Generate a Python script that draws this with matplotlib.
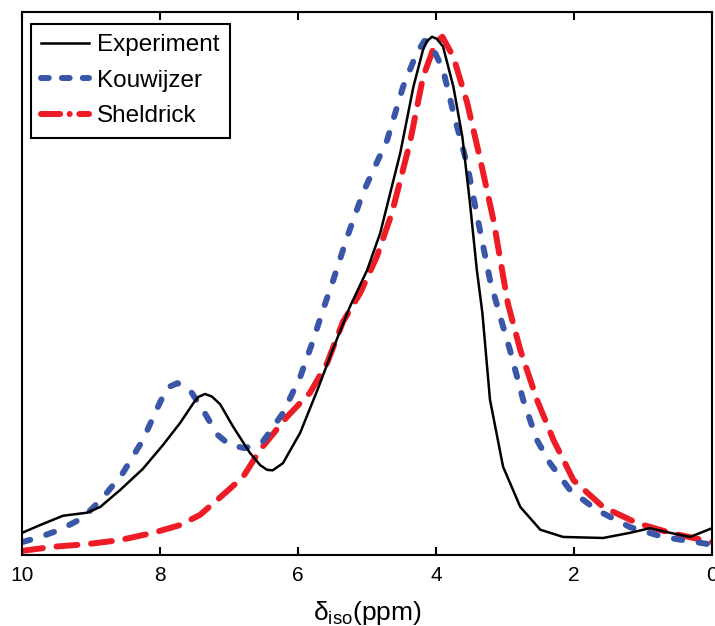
import matplotlib
matplotlib.use('Agg')
import matplotlib.pyplot as plt
from matplotlib.lines import Line2D

plt.rcParams['font.family'] = ['Liberation Sans', 'DejaVu Sans']
plt.rcParams['mathtext.fontset'] = 'custom'
plt.rcParams['mathtext.rm'] = 'Liberation Sans'

# Experimental spectrum (ppm, normalised intensity)
exp_ppm = [10.0, 9.74, 9.41, 9.06, 8.87, 8.58, 8.25, 7.96, 7.71, 7.52, 7.45, 7.35,
           7.25, 7.13, 6.94, 6.70, 6.55, 6.45, 6.37, 6.22, 5.97, 5.72, 5.49, 5.25,
           5.00, 4.81, 4.52, 4.33, 4.19, 4.13, 4.06, 3.99, 3.90, 3.75, 3.62, 3.51,
           3.41, 3.33, 3.22, 3.03, 2.78, 2.49, 2.16, 1.58, 1.19, 0.90, 0.61, 0.32, 0.0]
exp_int = [0.039, 0.054, 0.072, 0.078, 0.089, 0.122, 0.163, 0.209, 0.252, 0.290, 0.302, 0.308,
           0.303, 0.288, 0.244, 0.194, 0.170, 0.161, 0.160, 0.174, 0.233, 0.316, 0.397, 0.477,
           0.548, 0.620, 0.775, 0.903, 0.975, 0.992, 1.0, 0.996, 0.981, 0.903, 0.806, 0.678,
           0.548, 0.465, 0.297, 0.167, 0.089, 0.045, 0.031, 0.029, 0.039, 0.048, 0.039, 0.031,
           0.048]

# Kouwijzer simulation
kou_ppm = [10.0, 9.74, 9.45, 9.12, 8.83, 8.54, 8.25, 8.04, 7.90, 7.75, 7.57, 7.38,
           7.17, 6.99, 6.77, 6.51, 6.22, 5.97, 5.78, 5.64, 5.49, 5.29, 5.06, 4.71,
           4.48, 4.28, 4.17, 4.09, 3.90, 3.75, 3.55, 3.41, 3.22, 3.07, 2.93, 2.74,
           2.54, 2.35, 2.06, 1.67, 1.19, 0.71, 0.0]
kou_int = [0.021, 0.031, 0.045, 0.068, 0.107, 0.155, 0.219, 0.281, 0.320, 0.329, 0.316, 0.277,
           0.229, 0.209, 0.203, 0.216, 0.271, 0.341, 0.413, 0.471, 0.529, 0.612, 0.698, 0.800,
           0.903, 0.969, 0.992, 0.990, 0.936, 0.853, 0.752, 0.655, 0.529, 0.457, 0.393, 0.297,
           0.219, 0.174, 0.122, 0.083, 0.050, 0.031, 0.016]

# Sheldrick simulation
she_ppm = [10.0, 9.55, 9.06, 8.58, 8.10, 7.71, 7.42, 7.17, 6.80, 6.55, 6.16, 5.83,
           5.58, 5.35, 5.10, 4.86, 4.64, 4.38, 4.19, 4.01, 3.91, 3.75, 3.55, 3.36,
           3.17, 2.96, 2.78, 2.54, 2.30, 2.01, 1.58, 1.09, 0.61, 0.0]
she_int = [0.004, 0.012, 0.017, 0.025, 0.039, 0.054, 0.074, 0.103, 0.147, 0.200, 0.264, 0.310,
           0.368, 0.448, 0.504, 0.574, 0.659, 0.795, 0.922, 0.988, 1.0, 0.961, 0.872, 0.762,
           0.645, 0.483, 0.393, 0.297, 0.219, 0.141, 0.089, 0.058, 0.039, 0.021]

BLUE = '#3a56a8'
RED = '#ee1c25'
LW = 4.3

fig = plt.figure(figsize=(7.15, 6.26), dpi=100)
ax = fig.add_axes([0.031, 0.1134, 0.965, 0.8674])

ax.plot(exp_ppm, exp_int, color='k', lw=1.8, zorder=3)
ax.plot(kou_ppm, kou_int, color=BLUE, lw=LW, dashes=(1.4, 2.8),
        dash_capstyle='round', zorder=2)
ax.plot(she_ppm, she_int, color=RED, lw=LW, dashes=(3.5, 2.3),
        dash_capstyle='round', zorder=1)

ax.set_xlim(10, 0)
ax.set_ylim(-0.004, 1.048)
ax.set_yticks([])
ax.set_xticks([10, 8, 6, 4, 2, 0])
ax.tick_params(axis='x', direction='in', top=True, length=6, width=1.5,
               labelsize=15, pad=8)
for s in ax.spines.values():
    s.set_linewidth(1.5)
ax.set_xlabel(r'δ$_{\rm iso}$(ppm)', fontsize=19, labelpad=10)

# Legend handles (Sheldrick shown as dash-dot in the key)
h1 = Line2D([], [], color='k', lw=1.8)
h2 = Line2D([], [], color=BLUE, lw=LW, dashes=(1.3, 2.2), dash_capstyle='round')
h3 = Line2D([], [], color=RED, lw=LW, dashes=(3.2, 1.6, 0.01, 1.6),
            dash_capstyle='round')
leg = ax.legend([h1, h2, h3], ['Experiment', 'Kouwijzer', 'Sheldrick'],
                loc='upper left', bbox_to_anchor=(0.013, 0.978), fontsize=17.5,
                frameon=True, fancybox=False, edgecolor='k', framealpha=1,
                handlelength=1.95, handletextpad=0.35, labelspacing=0.56,
                borderpad=0.42, borderaxespad=0)
leg.get_frame().set_linewidth(1.5)

fig.savefig('out.png', dpi=100)
